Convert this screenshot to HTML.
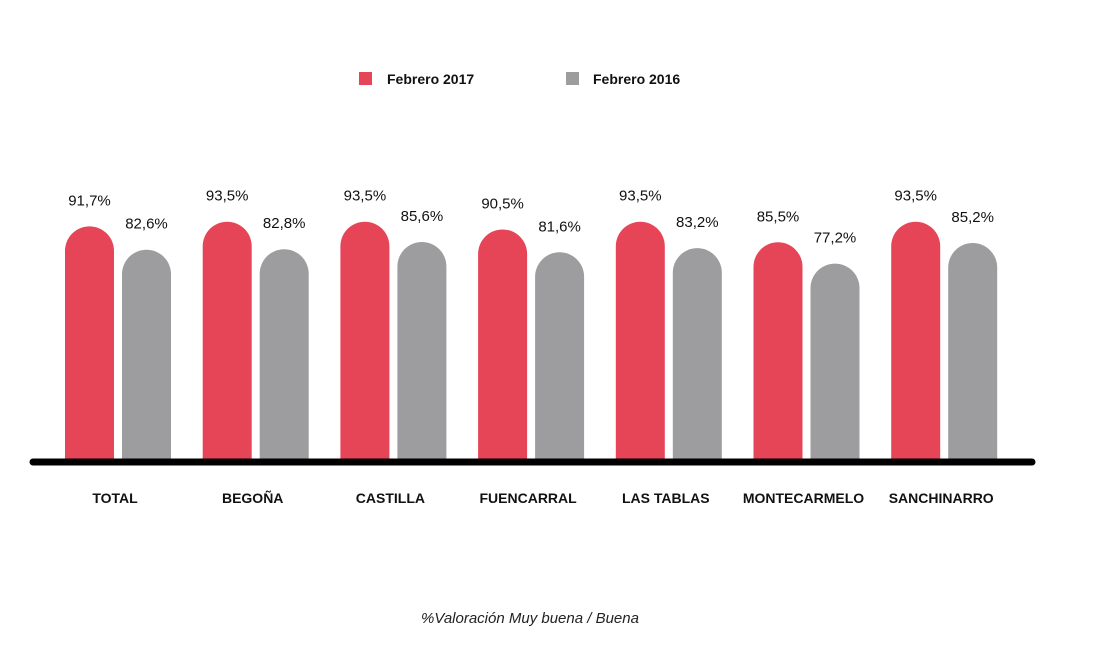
<!DOCTYPE html>
<html><head><meta charset="utf-8">
<style>
body{margin:0;background:#fff;width:1100px;height:664px;overflow:hidden;font-family:"Liberation Sans",sans-serif;}
svg text{font-family:"Liberation Sans",sans-serif;}
</style></head>
<body>
<svg id="chart" width="1100" height="664" viewBox="0 0 1100 664" xmlns="http://www.w3.org/2000/svg">
  <g>
    <rect x="359" y="72" width="13" height="13" fill="#e64558"/>
    <text x="387" y="84" font-size="14" font-weight="bold" fill="#111">Febrero 2017</text>
    <rect x="566" y="72" width="13" height="13" fill="#9d9d9f"/>
    <text x="593" y="84" font-size="14" font-weight="bold" fill="#111">Febrero 2016</text>
  </g>
  <g id="bars"></g>
  <line x1="33" y1="462" x2="1032" y2="462" stroke="#000" stroke-width="7" stroke-linecap="round"/>
  <text x="530" y="623" font-size="15" font-style="italic" text-anchor="middle" fill="#222">%Valoración Muy buena / Buena</text>
</svg>
<script>
const categories = ["TOTAL","BEGOÑA","CASTILLA","FUENCARRAL","LAS TABLAS","MONTECARMELO","SANCHINARRO"];
const values2017 = [91.7,93.5,93.5,90.5,93.5,85.5,93.5];
const values2016 = [82.6,82.8,85.6,81.6,83.2,77.2,85.2];

const NS="http://www.w3.org/2000/svg";
const g=document.getElementById('bars');
const baseY=462, k=2.57, barW=49, groupStart=65, groupStep=137.7, gap=57;
function yOf(v){return baseY-v*k;}
function fmt(v){return v.toFixed(1).replace('.',',')+'%';}
function bar(x,v,color,name){
  const top=yOf(v), r=barW/2;
  const p=document.createElementNS(NS,'path');
  p.setAttribute('d',`M${x},${baseY} L${x},${top+r} A${r},${r} 0 0 1 ${x+barW},${top+r} L${x+barW},${baseY} Z`);
  p.setAttribute('fill',color);
  
  
  g.appendChild(p);
  const t=document.createElementNS(NS,'text');
  t.setAttribute('x',x+barW/2);t.setAttribute('y',top-21);
  t.setAttribute('text-anchor','middle');t.setAttribute('font-size','15');t.setAttribute('fill','#111');
  t.textContent=fmt(v);
  
  
  g.appendChild(t);
}
categories.forEach((c,i)=>{
  const x=groupStart+i*groupStep;
  bar(x,values2017[i],'#e64558','bar-2017');
  bar(x+gap,values2016[i],'#9d9d9f','bar-2016');
  const t=document.createElementNS(NS,'text');
  t.setAttribute('x',x+(gap+barW)/2-3);t.setAttribute('y',503);
  t.setAttribute('text-anchor','middle');t.setAttribute('font-size','14');t.setAttribute('font-weight','bold');t.setAttribute('fill','#111');
  t.textContent=c;
  
  
  g.appendChild(t);
});
</script>
</body></html>
